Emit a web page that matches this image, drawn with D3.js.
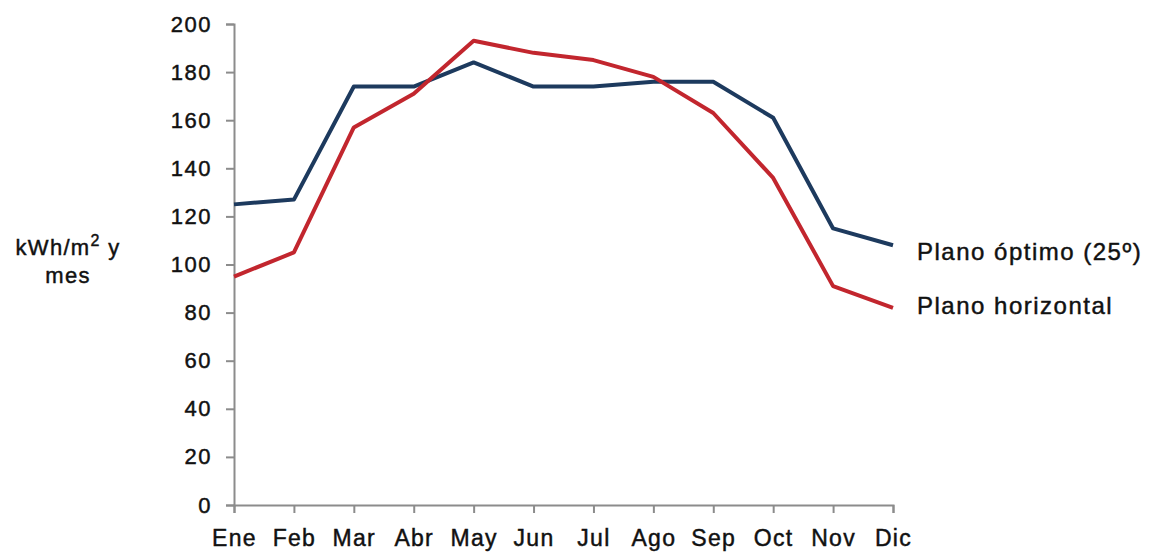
<!DOCTYPE html>
<html>
<head>
<meta charset="utf-8">
<script src="https://cdn.jsdelivr.net/npm/d3@7"></script>
<style>
  body { margin: 0; background: #fff; }
  svg text { font-family: "Liberation Sans", Arial, sans-serif; fill: #111; stroke: #111; stroke-width: 0.45px; }
</style>
</head>
<body>
<div id="chart"></div>
<script>
// data ---------------------------------------------------------------------------------------------
const months = ['Ene', 'Feb', 'Mar', 'Abr', 'May', 'Jun', 'Jul', 'Ago', 'Sep', 'Oct', 'Nov', 'Dic'];
const optimo = [125, 127, 174, 174, 184, 174, 174, 176, 176, 161, 115, 108];
const horizontal = [95, 105, 157, 171, 193, 188, 185, 178, 163, 136, 91, 82];
const yTicks = [0, 20, 40, 60, 80, 100, 120, 140, 160, 180, 200];
const seriesNames = ['Plano óptimo (25º)', 'Plano horizontal'];

// chart --------------------------------------------------------------------------------------------
const width = 1150;
const height = 552;
const margin = { top: 24, right: 257, bottom: 47, left: 234 };

const svg = d3.select('#chart')
    .append('svg')
    .attr('width', width)
    .attr('height', height);

const xScale = d3.scalePoint()
    .domain(months)
    .range([margin.left, width - margin.right]);

const yScale = d3.scaleLinear()
    .domain([0, 200])
    .range([height - margin.bottom, margin.top]);

// axes
const xAxis = svg.append('g')
    .attr('transform', `translate(0,${height - margin.bottom})`)
    .call(d3.axisBottom(xScale).tickSize(8).tickPadding(17));
xAxis.selectAll('text')
    .attr('font-size', '23px')
    .style('font-family', '"Liberation Sans", Arial, sans-serif')
    .style('letter-spacing', '1.3px');

const yAxis = svg.append('g')
    .attr('transform', `translate(${margin.left},0)`)
    .call(d3.axisLeft(yScale).tickValues(yTicks).tickSize(8).tickPadding(14));
yAxis.selectAll('text')
    .attr('font-size', '22px')
    .style('font-family', '"Liberation Sans", Arial, sans-serif')
    .style('letter-spacing', '1.5px');

svg.selectAll('.domain, .tick line')
    .attr('stroke', '#8c8c8c')
    .attr('stroke-width', 2);

// lines
const line = d3.line()
    .x((d, i) => xScale(months[i]))
    .y(d => yScale(d));

const series = [
    { name: seriesNames[0], values: optimo, color: '#1d3a5e', labelShift: 6 },
    { name: seriesNames[1], values: horizontal, color: '#c2262e', labelShift: -2 }
];

svg.append('g')
    .selectAll('path')
    .data(series)
    .join('path')
    .attr('fill', 'none')
    .attr('stroke', d => d.color)
    .attr('stroke-width', 4)
    .attr('stroke-linejoin', 'round')
    .attr('d', d => line(d.values));

// series labels at line ends
svg.append('g')
    .selectAll('text')
    .data(series)
    .join('text')
    .attr('x', xScale('Dic') + 24)
    .attr('y', d => yScale(d.values[d.values.length - 1]) + d.labelShift)
    .attr('dy', '0.35em')
    .attr('font-size', '24px')
    .style('letter-spacing', '1.5px')
    .text(d => d.name);

// y-axis title
const yTitle = svg.append('text')
    .attr('text-anchor', 'middle')
    .attr('font-size', '22px')
    .style('letter-spacing', '1.3px');
yTitle.append('tspan').attr('x', 68).attr('y', 255).text('kWh/m');
yTitle.append('tspan').attr('dy', -9).attr('font-size', '16px').text('2');
yTitle.append('tspan').attr('dy', 9).text(' y');
yTitle.append('tspan').attr('x', 68).attr('y', 283).text('mes');
</script>
</body>
</html>
